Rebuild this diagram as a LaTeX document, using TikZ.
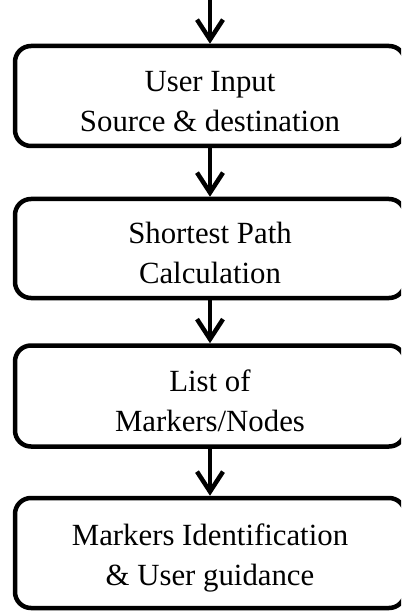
\documentclass[tikz,border=0pt]{standalone}
\usepackage{fontspec}
\setmainfont{Liberation Serif}
\usetikzlibrary{arrows.meta}
\newcommand{\toppad}{\rule{0pt}{31pt}}
\begin{document}
\begin{tikzpicture}[x=1pt,y=-1pt,
  stagebox/.style={draw=black, line width=4.5pt, rounded corners=16pt,
    minimum width=390pt, align=center, inner sep=0pt,
    font=\fontsize{30.8}{40}\selectfont},
  flow/.style={line width=4.5pt,
    -{Straight Barb[length=20pt,width=26pt,line width=4.5pt]}}]
\useasboundingbox (0,0) rectangle (401,612);
\clip (0,0) rectangle (401,612);
\node[stagebox, minimum height=100pt] (input) at (210,96) {\toppad User Input\\Source \& destination};
\node[stagebox, minimum height=99pt] (path) at (210,248.5) {\toppad Shortest Path\\Calculation};
\node[stagebox, minimum height=101pt] (list) at (210,396) {\toppad List of\\Markers/Nodes};
\node[stagebox, minimum height=110pt] (guide) at (210,553) {\toppad Markers Identification\\\& User guidance};
\coordinate (start) at (210,-2);
\draw[flow] (start) -- (input.north);
\draw[flow] (input.south) -- (path.north);
\draw[flow] (path.south) -- (list.north);
\draw[flow] (list.south) -- (guide.north);
\end{tikzpicture}
\end{document}
